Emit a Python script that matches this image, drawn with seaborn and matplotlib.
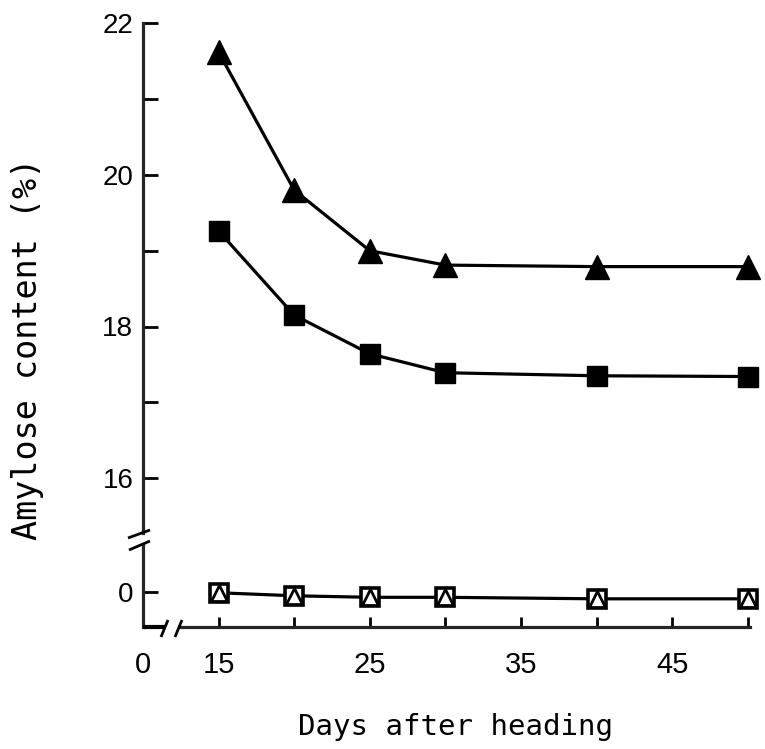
import matplotlib
matplotlib.use("Agg")
import matplotlib.pyplot as plt
from matplotlib.lines import Line2D
import pandas as pd
import seaborn as sns

# Amylose content of grains sampled at different days after heading
days = [15, 20, 25, 30, 40, 50]
amylose_tri_filled = [21.62, 19.80, 19.00, 18.81, 18.79, 18.79]
amylose_sq_filled = [19.26, 18.15, 17.64, 17.39, 17.35, 17.34]
amylose_sq_open = [-0.01, -0.05, -0.07, -0.07, -0.09, -0.09]
amylose_tri_open = [-0.01, -0.05, -0.07, -0.07, -0.09, -0.09]

upper_major = [16, 18, 20, 22]
upper_minor = [17, 19, 21]
x_major = [15, 25, 35, 45]
x_minor = [20, 30, 40, 50]

sns.set_theme(style="ticks")
plt.rcParams["font.family"] = ["Liberation Sans", "DejaVu Sans"]

W, H = 765, 749
fig = plt.figure(figsize=(W / 100, H / 100), dpi=100)


def box(left, top, right, bottom):
    return [left / W, 1 - bottom / H, (right - left) / W, (bottom - top) / H]


def fig_line(p0, p1, lw=2.0):
    fig.add_artist(Line2D([p0[0] / W, p1[0] / W], [1 - p0[1] / H, 1 - p1[1] / H],
                          transform=fig.transFigure, color="black", lw=lw,
                          solid_capstyle="butt"))


ax_top = fig.add_axes(box(143, 23.3, 750, 533))
ax_bot = fig.add_axes(box(143, 545, 750, 627))
for ax in (ax_top, ax_bot):
    ax.set_facecolor("white")
    ax.set_xlim(10, 50.15)

ink = "black"
line_kw = dict(color=ink, linewidth=2.3, markeredgecolor=ink, legend=False)

df = pd.DataFrame({"day": days, "tri": amylose_tri_filled, "sq": amylose_sq_filled,
                   "sq_open": amylose_sq_open, "tri_open": amylose_tri_open})

sns.lineplot(data=df, x="day", y="tri", ax=ax_top, marker="^", markersize=17,
             markerfacecolor=ink, markeredgewidth=1, clip_on=False, **line_kw)
sns.lineplot(data=df, x="day", y="sq", ax=ax_top, marker="s", markersize=15,
             markerfacecolor=ink, markeredgewidth=1, clip_on=False, **line_kw)
sns.lineplot(data=df, x="day", y="sq_open", ax=ax_bot, marker="s", markersize=13,
             markerfacecolor="white", markeredgewidth=2.6, clip_on=False, **line_kw)
sns.lineplot(data=df, x="day", y="tri_open", ax=ax_bot, marker="^", markersize=11,
             markerfacecolor="white", markeredgewidth=2.0, clip_on=False,
             color=ink, linewidth=0, markeredgecolor=ink, legend=False)

# upper panel: only the left spine
ax_top.set_ylim(22 - (533 - 23.3) / 75.8, 22)
for s in ("top", "right", "bottom"):
    ax_top.spines[s].set_visible(False)
ax_top.spines["left"].set_linewidth(2.3)
ax_top.set_xticks([])
ax_top.set_yticks(upper_major)
ax_top.set_yticks(upper_minor, minor=True)
ax_top.tick_params(axis="y", which="both", direction="in", length=11, width=2,
                   pad=7, labelsize=20, color=ink, labelcolor=ink)

# lower panel: zero level and the day axis
ax_bot.set_ylim(-(627 - 592) / 75.8, (592 - 545) / 75.8)
for s in ("top", "right"):
    ax_bot.spines[s].set_visible(False)
ax_bot.spines["left"].set_linewidth(2.3)
ax_bot.spines["bottom"].set_linewidth(2.3)
ax_bot.spines["bottom"].set_bounds(12.35, 50.15)
ax_bot.set_yticks([0])
ax_bot.tick_params(axis="y", direction="in", length=11, width=2, pad=7,
                   labelsize=20, color=ink, labelcolor=ink)
ax_bot.set_xticks([10] + x_major, ["0"] + [str(v) for v in x_major])
ax_bot.set_xticks(x_minor, minor=True)
ax_bot.tick_params(axis="x", which="both", direction="in", length=7, width=2,
                   pad=17, labelsize=21, color=ink, labelcolor=ink)
ax_bot.xaxis.get_major_ticks()[0].tick1line.set_visible(False)
ax_bot.set_xlabel("")
ax_bot.set_ylabel("")
ax_top.set_xlabel("")
ax_top.set_ylabel("")

# short stub of the day axis before the break
fig_line((143, 627), (166, 627), lw=3.0)
# axis break marks
fig_line((161, 637), (168, 620))
fig_line((175, 637), (182, 620))
fig_line((128, 538), (150, 530))
fig_line((129, 550), (150, 541))

mono = ["DejaVu Sans Mono", "DejaVu Sans"]
fig.text(455 / W, 1 - 735 / H, "Days after heading", ha="center", va="baseline",
         fontsize=21, family=mono, color=ink)
fig.text(28 / W, 1 - 349 / H, "Amylose content (%)", ha="center", va="center",
         rotation=90, fontsize=24, family=mono, color=ink)

fig.savefig("out.png", dpi=100, facecolor="white")
